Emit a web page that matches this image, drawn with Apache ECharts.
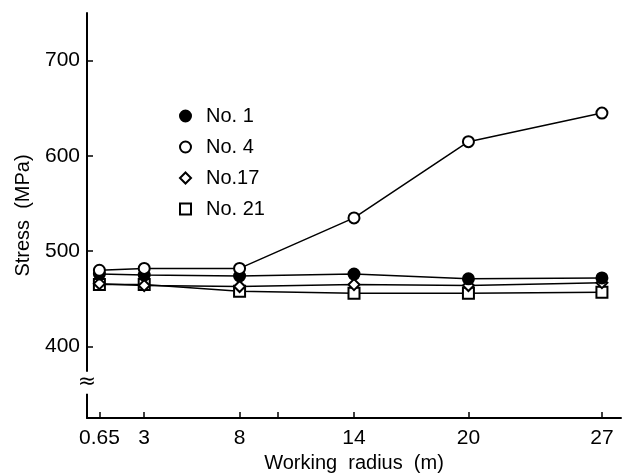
<!DOCTYPE html>
<html>
<head>
<meta charset="utf-8">
<script src="https://cdn.jsdelivr.net/npm/echarts@6/dist/echarts.min.js"></script>
<style>
  html, body { margin: 0; padding: 0; background: #fff; }
  #chart { width: 622px; height: 473px; }
</style>
</head>
<body>
<div id="chart"></div>
<script>
// working radius (m)
const radius = [0.65, 3, 8, 14, 20, 27];
// stress (MPa) per specimen
const no1 = [476, 475, 474, 476, 471, 472];
const no4 = [480, 482, 482, 535, 615, 645];
const no17 = [466, 464, 463, 465, 464, 467];
const no21 = [465, 465, 458, 456, 456, 457];

const xTicks = [0.65, 3, 8, 10, 14, 20, 27];
const xLabels = [0.65, 3, 8, 14, 20, 27];
const yTicks = [400, 500, 600, 700];

const font = "Liberation Sans";

function pairs(ys) {
  return radius.map((x, i) => [x, ys[i]]);
}

var chartDom = document.getElementById("chart");
var myChart = echarts.init(chartDom);
var option;

function mkSeries(name, data, symbol, fill) {
  return {
    name: name,
    type: "line",
    data: pairs(data),
    symbol: symbol,
    symbolSize: 11,
    lineStyle: { color: "#000", width: 1.5 },
    itemStyle: { color: fill, borderColor: "#000", borderWidth: 2 },
    emphasis: { disabled: true },
  };
}

option = {
  animation: false,
  textStyle: { fontFamily: font, color: "#000" },
  grid: { left: 87, right: 1, top: 13, bottom: 55, outerBoundsMode: "none" },
  legend: {
    orient: "vertical",
    left: 174,
    top: 101,
    itemWidth: 11,
    itemHeight: 11,
    itemGap: 11,
    textStyle: { fontSize: 20, color: "#000", fontFamily: font, padding: [0, 0, 0, 10] },
    data: [
      { name: "No. 1", icon: "circle" },
      { name: "No. 4", icon: "circle" },
      { name: "No.17", icon: "diamond" },
      { name: "No. 21", icon: "rect" },
    ],
  },
  xAxis: {
    type: "value",
    min: 0,
    max: 28,
    name: "Working  radius  (m)",
    nameLocation: "middle",
    nameGap: 35,
    nameTextStyle: { fontSize: 20, color: "#000" },
    axisLine: { lineStyle: { color: "#000", width: 2 } },
    axisTick: { inside: true, length: 6, customValues: xTicks, lineStyle: { color: "#000", width: 1.5 } },
    axisLabel: {
      customValues: xLabels,
      fontSize: 21,
      color: "#000",
      margin: 10,
      formatter: (v) => String(v),
    },
    splitLine: { show: false },
  },
  yAxis: {
    type: "value",
    min: 325,
    max: 750,
    name: "Stress  (MPa)",
    nameLocation: "middle",
    nameGap: 54,
    nameTextStyle: { fontSize: 20, color: "#000" },
    axisLine: { lineStyle: { color: "#000", width: 2 } },
    axisTick: { inside: true, length: 6, customValues: yTicks, lineStyle: { color: "#000", width: 1.5 } },
    axisLabel: { customValues: yTicks, fontSize: 21, color: "#000", margin: 7 },
    splitLine: { show: false },
  },
  series: [
    mkSeries("No. 21", no21, "rect", "#fff"),
    mkSeries("No.17", no17, "diamond", "#fff"),
    mkSeries("No. 1", no1, "circle", "#000"),
    mkSeries("No. 4", no4, "circle", "#fff"),
  ],
};

option && myChart.setOption(option);

// axis break mark on the y axis
const bp = myChart.convertToPixel({ xAxisIndex: 0, yAxisIndex: 0 }, [0, 362]);
myChart.setOption({
  graphic: [
    {
      type: "text",
      x: bp[0],
      y: bp[1],
      style: {
        text: "≈",
        fontSize: 22,
        fontFamily: "DejaVu Sans",
        fill: "#000",
        align: "center",
        verticalAlign: "middle",
        backgroundColor: "#fff",
      },
      z: 100,
    },
  ],
});
</script>
</body>
</html>
